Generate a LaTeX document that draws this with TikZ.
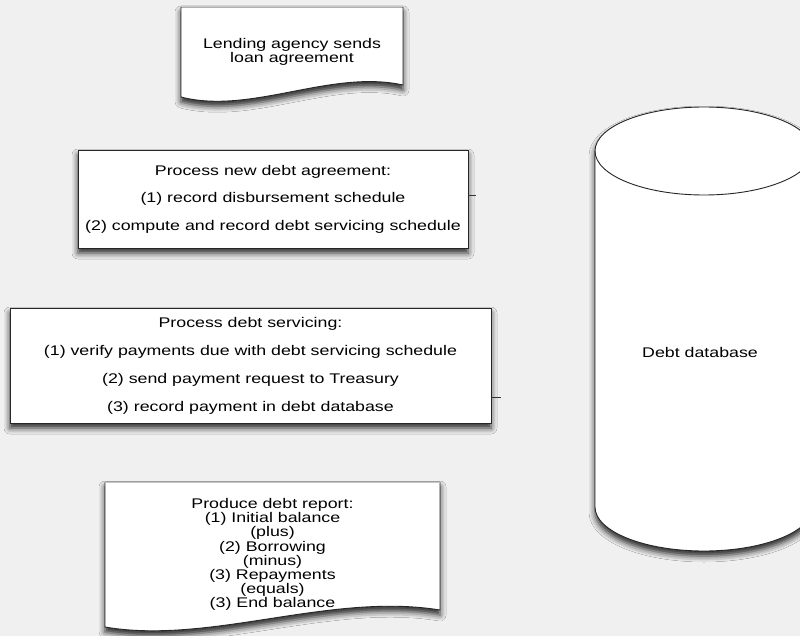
\documentclass[tikz,border=0pt]{standalone}
\usepackage{fontspec}
\setmainfont{Liberation Sans}[FakeStretch=1.27]
\usetikzlibrary{shadows.blur,calc}
\definecolor{bgc}{HTML}{F0F0F0}
\tikzset{
  txt/.style={align=center, inner sep=0pt, font=\fontsize{14}{#1}\selectfont},
  shad/.style={blur shadow={shadow xshift=0pt, shadow yshift=-5pt, shadow blur radius=6pt, shadow opacity=85}},
  boxed/.style={draw=black!85, line width=0.9pt, fill=white, shad},
  topedge/.style={draw=gray!45, line width=1pt},
  stub/.style={draw=black!80, line width=1pt},
}
\begin{document}
\begin{tikzpicture}[x=1pt, y=-1pt]
\useasboundingbox (0,0) rectangle (800,636);
\clip (0,0) rectangle (800,636);
\fill[bgc] (0,0) rectangle (800,636);

% Box 1 outline: document shape
\coordinate (d1nw) at (181,7);
\coordinate (d1ne) at (403,7);
\coordinate (d1se) at (403,85);
\coordinate (d1sw) at (181,97);
\path[boxed] (d1nw) -- (d1ne) -- (d1se)
  .. controls ($(d1sw)+(150,-28)$) and ($(d1sw)+(70,18)$) .. (d1sw) -- cycle;
\path[topedge] (d1nw) -- (d1ne);
\node[txt=14.5] (n1) at (292,52) {Lending agency sends\\loan agreement};

% Box 4 outline: document shape
\coordinate (d4nw) at (105,482);
\coordinate (d4ne) at (440,482);
\coordinate (d4se) at (440,610);
\coordinate (d4sw) at (105,627);
\path[boxed] (d4nw) -- (d4ne) -- (d4se)
  .. controls ($(d4sw)+(225,-35)$) and ($(d4sw)+(105,18)$) .. (d4sw) -- cycle;
\path[topedge] (d4nw) -- (d4ne);
\node[txt=14.1] (n4) at (272.5,554.5)
  {Produce debt report:\\(1) Initial balance\\(plus)\\(2) Borrowing\\(minus)\\(3) Repayments\\(equals)\\(3) End balance};

% Box 2
\node[txt=27.5, boxed, minimum width=390pt, minimum height=98pt] (n2) at (273,199)
  {Process new debt agreement:\\(1) record disbursement schedule\\(2) compute and record debt servicing schedule};
\path[topedge] (n2.north west) -- (n2.north east);

% Box 3
\node[txt=28, boxed, minimum width=481pt, minimum height=115pt] (n3) at (250.5,365.5)
  {Process debt servicing:\\(1) verify payments due with debt servicing schedule\\(2) send payment request to Treasury\\(3) record payment in debt database};
\path[topedge] (n3.north west) -- (n3.north east);

% Cylinder
\path[boxed] (595,151) -- (595,507)
  arc[start angle=180, end angle=360, x radius=109pt, y radius=44pt] -- (813,151)
  arc[start angle=0, end angle=180, x radius=109pt, y radius=44pt] -- cycle;
\draw[draw=black!85, line width=0.9pt] (595,151)
  arc[start angle=180, end angle=360, x radius=109pt, y radius=44pt];
\node[txt=16] (db) at (700,352) {Debt database};

% connector stubs
\coordinate (s2) at (476,196);
\coordinate (s3) at (501,397);
\draw[stub] (n2.east |- s2) -- (s2);
\draw[stub] (n3.east |- s3) -- (s3);
\end{tikzpicture}
\end{document}
